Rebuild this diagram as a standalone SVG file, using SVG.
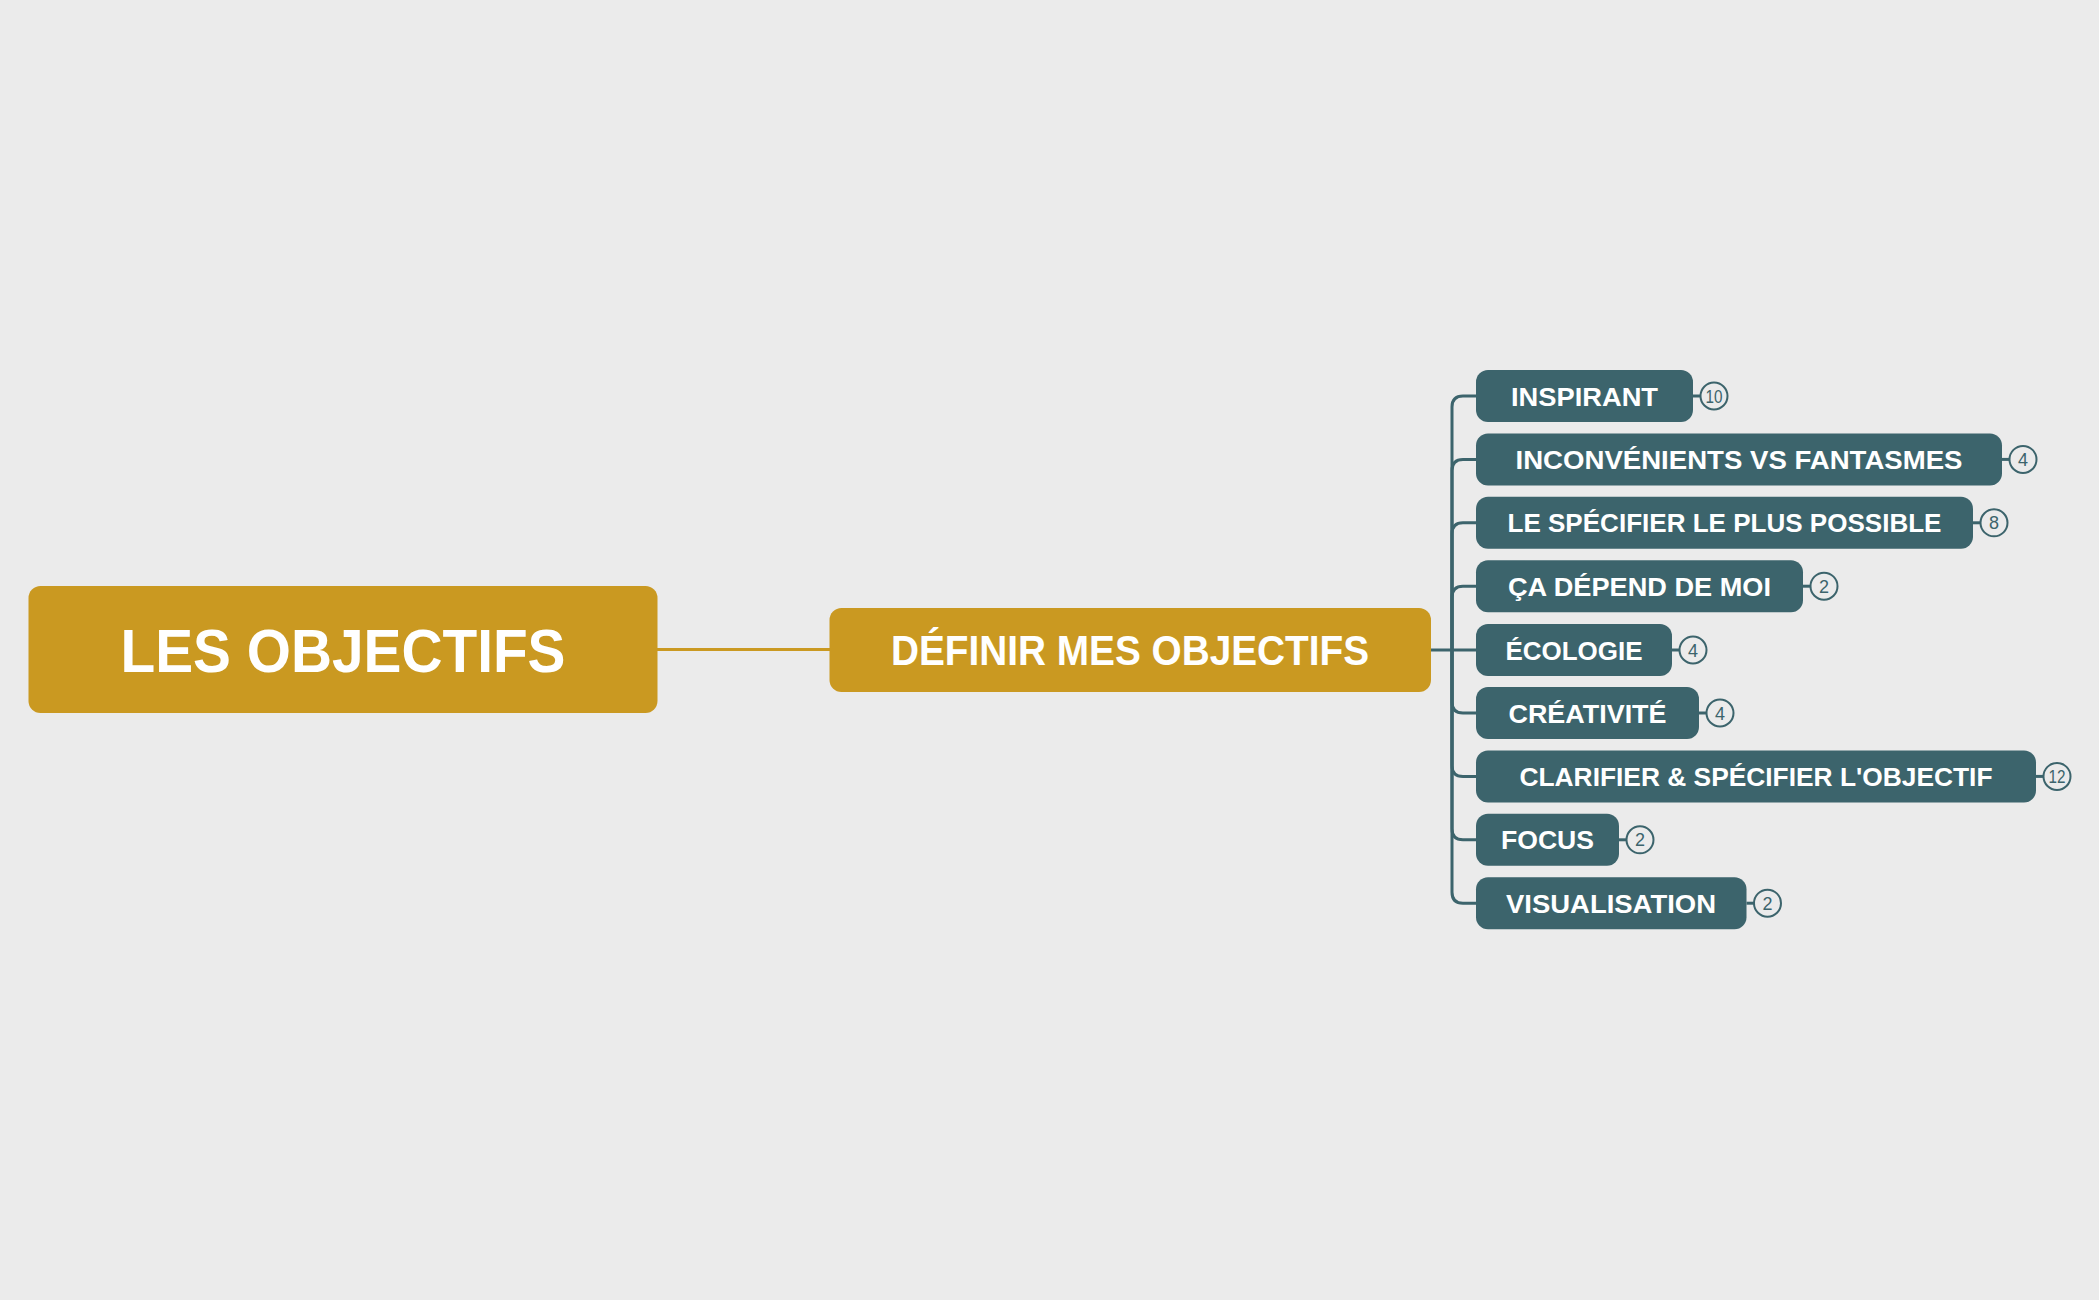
<svg xmlns="http://www.w3.org/2000/svg" width="2099" height="1300" viewBox="0 0 2099 1300">
<style>
.gold{fill:#CA9921}
.teal{fill:#3C646C}
.t{font-family:"Liberation Sans",Arial,sans-serif;font-weight:bold;fill:#FFFFFF;text-anchor:middle}
.ct{font-size:26.5px}
.conn{fill:none;stroke:#3C646C;stroke-width:3}
.gconn{fill:none;stroke:#CA9921;stroke-width:3}
.badge circle{fill:#EBEBEB;stroke:#3C646C;stroke-width:2}
.badge line{stroke:#3C646C;stroke-width:3}
.badge text{font-family:"Liberation Sans",Arial,sans-serif;font-size:18px;fill:#3C646C;text-anchor:middle}
</style>
<rect width="2099" height="1300" fill="#EBEBEB"/>
<g id="connectors">
<path class="gconn" d="M657 649.5 H830"/>
<path class="conn" d="M1431 650 H1476"/>
<path class="conn" d="M1452 650 V407 Q1452 396 1463 396 H1476"/>
<path class="conn" d="M1452 650 V470.4 Q1452 459.4 1463 459.4 H1476"/>
<path class="conn" d="M1452 650 V533.8 Q1452 522.8 1463 522.8 H1476"/>
<path class="conn" d="M1452 650 V597.2 Q1452 586.2 1463 586.2 H1476"/>
<path class="conn" d="M1452 650 V702 Q1452 713 1463 713 H1476"/>
<path class="conn" d="M1452 650 V765.4 Q1452 776.4 1463 776.4 H1476"/>
<path class="conn" d="M1452 650 V828.8 Q1452 839.8 1463 839.8 H1476"/>
<path class="conn" d="M1452 650 V892.2 Q1452 903.2 1463 903.2 H1476"/>
</g>
<g id="root">
<rect class="gold" x="28.5" y="586" width="629" height="127" rx="12"/>
<text class="t" x="343" y="671.5" font-size="62" textLength="445" lengthAdjust="spacingAndGlyphs">LES OBJECTIFS</text>
</g>
<g id="central">
<rect class="gold" x="829.5" y="608" width="601.5" height="84" rx="12"/>
<text class="t" x="1130" y="665" font-size="42" textLength="478" lengthAdjust="spacingAndGlyphs">DÉFINIR MES OBJECTIFS</text>
</g>
<g id="n1">
<rect class="teal" x="1476" y="370" width="217" height="52" rx="12"/>
<text class="t ct" x="1584.5" y="405.5" textLength="147" lengthAdjust="spacingAndGlyphs">INSPIRANT</text>
<g class="badge"><line x1="1693" y1="396" x2="1701" y2="396"/><circle cx="1714" cy="396" r="13.5"/><text x="1714" y="402.5" textLength="17" lengthAdjust="spacingAndGlyphs">10</text></g>
</g>
<g id="n2">
<rect class="teal" x="1476" y="433.4" width="526" height="52" rx="12"/>
<text class="t ct" x="1739" y="468.9" textLength="447" lengthAdjust="spacingAndGlyphs">INCONVÉNIENTS VS FANTASMES</text>
<g class="badge"><line x1="2002" y1="459.4" x2="2010" y2="459.4"/><circle cx="2023" cy="459.4" r="13.5"/><text x="2023" y="465.9">4</text></g>
</g>
<g id="n3">
<rect class="teal" x="1476" y="496.8" width="497" height="52" rx="12"/>
<text class="t ct" x="1724.5" y="532.3" textLength="434" lengthAdjust="spacingAndGlyphs">LE SPÉCIFIER LE PLUS POSSIBLE</text>
<g class="badge"><line x1="1973" y1="522.8" x2="1981" y2="522.8"/><circle cx="1994" cy="522.8" r="13.5"/><text x="1994" y="529.3">8</text></g>
</g>
<g id="n4">
<rect class="teal" x="1476" y="560.2" width="327" height="52" rx="12"/>
<text class="t ct" x="1639.5" y="595.7" textLength="263" lengthAdjust="spacingAndGlyphs">ÇA DÉPEND DE MOI</text>
<g class="badge"><line x1="1803" y1="586.2" x2="1811" y2="586.2"/><circle cx="1824" cy="586.2" r="13.5"/><text x="1824" y="592.7">2</text></g>
</g>
<g id="n5">
<rect class="teal" x="1476" y="624" width="196" height="52" rx="12"/>
<text class="t ct" x="1574" y="659.5" textLength="137" lengthAdjust="spacingAndGlyphs">ÉCOLOGIE</text>
<g class="badge"><line x1="1672" y1="650" x2="1680" y2="650"/><circle cx="1693" cy="650" r="13.5"/><text x="1693" y="656.5">4</text></g>
</g>
<g id="n6">
<rect class="teal" x="1476" y="687" width="223" height="52" rx="12"/>
<text class="t ct" x="1587.5" y="722.5" textLength="158" lengthAdjust="spacingAndGlyphs">CRÉATIVITÉ</text>
<g class="badge"><line x1="1699" y1="713" x2="1707" y2="713"/><circle cx="1720" cy="713" r="13.5"/><text x="1720" y="719.5">4</text></g>
</g>
<g id="n7">
<rect class="teal" x="1476" y="750.4" width="560" height="52" rx="12"/>
<text class="t ct" x="1756" y="785.9" textLength="473" lengthAdjust="spacingAndGlyphs">CLARIFIER &amp; SPÉCIFIER L'OBJECTIF</text>
<g class="badge"><line x1="2036" y1="776.4" x2="2044" y2="776.4"/><circle cx="2057" cy="776.4" r="13.5"/><text x="2057" y="782.9" textLength="17" lengthAdjust="spacingAndGlyphs">12</text></g>
</g>
<g id="n8">
<rect class="teal" x="1476" y="813.8" width="143" height="52" rx="12"/>
<text class="t ct" x="1547.5" y="849.3" textLength="93" lengthAdjust="spacingAndGlyphs">FOCUS</text>
<g class="badge"><line x1="1619" y1="839.8" x2="1627" y2="839.8"/><circle cx="1640" cy="839.8" r="13.5"/><text x="1640" y="846.3">2</text></g>
</g>
<g id="n9">
<rect class="teal" x="1476" y="877.2" width="270.5" height="52" rx="12"/>
<text class="t ct" x="1611" y="912.7" textLength="210" lengthAdjust="spacingAndGlyphs">VISUALISATION</text>
<g class="badge"><line x1="1746.5" y1="903.2" x2="1754.5" y2="903.2"/><circle cx="1767.5" cy="903.2" r="13.5"/><text x="1767.5" y="909.7">2</text></g>
</g>
</svg>
